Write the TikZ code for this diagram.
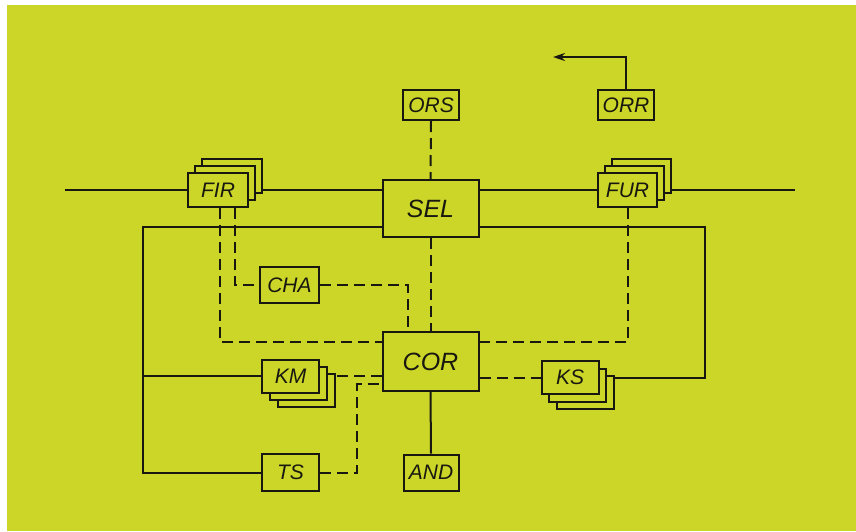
\documentclass[tikz,border=0pt]{standalone}
\usepackage{fontspec}
\setmainfont{Liberation Sans}
\usetikzlibrary{arrows.meta,backgrounds}
\definecolor{bgyellow}{RGB}{204,214,40}
\definecolor{ink}{RGB}{24,24,16}
\pgfdeclarelayer{bglayer}
\pgfsetlayers{bglayer,background,main}
\tikzset{
  box/.style={draw=ink, fill=bgyellow, line width=2pt, inner sep=0pt, font=\fontsize{21}{21}\selectfont\itshape, text=ink},
  smallbox/.style={box, minimum width=57pt, minimum height=33pt},
  bigbox/.style={box, minimum width=96pt, minimum height=57pt, font=\fontsize{25}{25}\selectfont\itshape},
  wire/.style={draw=ink, line width=2pt},
  dwire/.style={wire, dash pattern=on 11pt off 6pt},
}
\begin{document}
\begin{tikzpicture}[x=1pt,y=-1pt]
\useasboundingbox (0,0) rectangle (856,531);
\begin{pgfonlayer}{bglayer}
  \fill[white] (0,0) rectangle (856,531);
  \fill[bgyellow] (7,5) rectangle (856,531);
\end{pgfonlayer}
% nodes
\node[smallbox, minimum width=56pt, minimum height=30pt] (ors) at (431,105) {ORS};
\node[smallbox, minimum width=56pt, minimum height=30pt] (orr) at (626,105) {ORR};
\node[bigbox] (sel) at (430.5,208.5) {SEL};
\node[bigbox, minimum height=59pt] (cor) at (430.5,361.5) {COR};
% FIR stack
\node[smallbox, minimum width=60pt, minimum height=34pt] (fir3) at (232,176) {};
\node[smallbox, minimum width=60pt, minimum height=34pt] (fir2) at (225,183) {};
\node[smallbox, minimum width=60pt, minimum height=34pt] (fir) at (218,190) {FIR};
% FUR stack
\node[smallbox, minimum width=59pt, minimum height=34pt] (fur3) at (641.5,176) {};
\node[smallbox, minimum width=59pt, minimum height=34pt] (fur2) at (634.5,183) {};
\node[smallbox, minimum width=59pt, minimum height=34pt] (fur) at (627.5,190) {FUR};
\node[smallbox, minimum width=59pt, minimum height=36pt] (cha) at (289.5,285) {CHA};
% KM stack
\node[smallbox] (km3) at (306.5,390) {};
\node[smallbox] (km2) at (298.5,383) {};
\node[smallbox] (km) at (290.5,376) {KM};
% KS stack
\node[smallbox] (ks3) at (585,392.5) {};
\node[smallbox] (ks2) at (577.5,385) {};
\node[smallbox] (ks) at (570,377.5) {KS};
\node[smallbox, minimum height=37pt] (ts) at (290.5,472.5) {TS};
\node[smallbox, minimum width=55pt, minimum height=36pt] (and) at (431,472.5) {AND};
% free ends
\coordinate (mainL) at (65,190);
\coordinate (mainR) at (795,190);
\coordinate (fl) at (143,227);
\coordinate (fr) at (705,227);
\coordinate (arr) at (553,57);
\coordinate (fird) at (220,342);
\coordinate (furd) at (628,342);
\coordinate (firc) at (235,287);
\coordinate (tsx) at (357,384);
\begin{pgfonlayer}{background}
  % main bus
  \draw[wire] (mainL) -- (fir.west);
  \draw[wire] (fir3.east |- fir.east) -- (sel.west |- fir.east);
  \draw[wire] (sel.east |- fur.west) -- (fur.west);
  \draw[wire] (fur3.east |- fur.east) -- (mainR);
  % frame
  \draw[wire] (fl -| sel.west) -- (fl) |- (ts.west);
  \draw[wire] (fl |- km.west) -- (km.west);
  \draw[wire] (fr -| sel.east) -- (fr) |- (ks.east);
  % dashed links
  \draw[dwire] (ors.south) -- (sel.north);
  \draw[dwire] (sel.south) -- (cor.north);
  \draw[dwire] (fird |- fir.south) -- (fird) -- (fird -| cor.west);
  \draw[dwire] (furd |- fur.south) -- (furd) -- (furd -| cor.east);
  \draw[dwire] (firc |- fir.south) |- (cha.west);
  \draw[dwire] (cha.east) -| ([xshift=-22.5pt]cor.north);
  \draw[dwire] (km.east) -- (km.east -| cor.west);
  \draw[dwire] (ts.east) -| (tsx) -- (tsx -| cor.west);
  \draw[dwire] (ks.west -| cor.east) -- (ks.west);
  \draw[wire] (cor.south) -- (and.north);
  \draw[wire, -{Stealth[length=12pt,width=8pt]}] (orr.north) |- (arr);
\end{pgfonlayer}
\end{tikzpicture}
\end{document}
